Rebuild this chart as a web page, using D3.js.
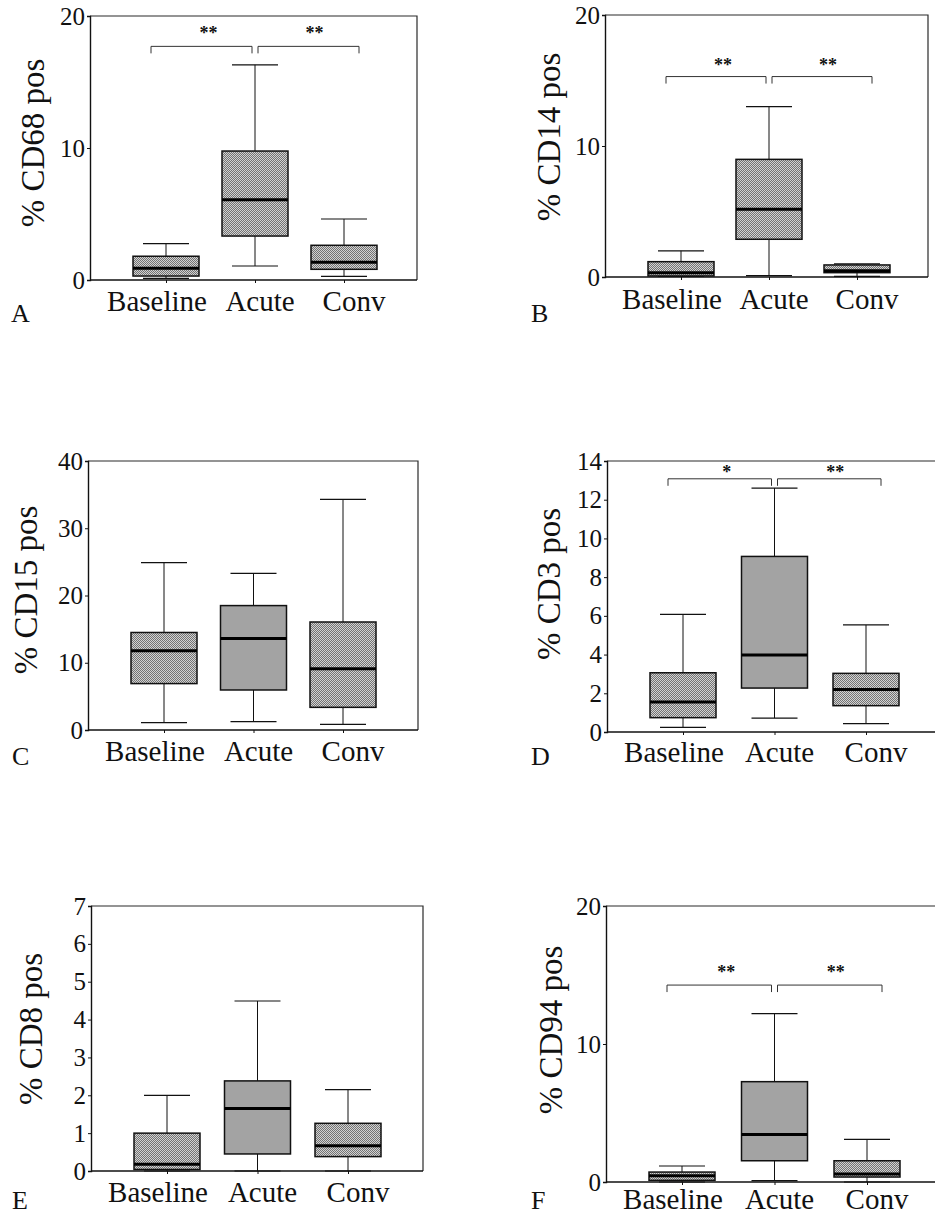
<!DOCTYPE html>
<html>
<head>
<meta charset="utf-8">
<script src="https://cdn.jsdelivr.net/npm/d3@7"></script>
<style>
	body { margin: 0; background: #fff; }
	svg { display: block; }
	svg text { font-family: 'Liberation Serif', 'DejaVu Serif', serif; fill: #111; }
</style>
</head>
<body>
<div id="chart"></div>
<script>
// group names on the x axis
var groups = ['Baseline', 'Acute', 'Conv'];

// box stats per group: [min, q1, median, q3, max]
var cd68 = [[0.13, 0.3, 0.89, 1.8, 2.75], [1.06, 3.33, 6.08, 9.77, 16.3], [0.28, 0.81, 1.34, 2.63, 4.62]];
var cd14 = [[0.05, 0.08, 0.33, 1.17, 2.0], [0.1, 2.88, 5.17, 8.98, 13.0], [0.05, 0.33, 0.48, 0.92, 1.0]];
var cd15 = [[1.1, 6.9, 11.8, 14.5, 24.9], [1.24, 5.95, 13.6, 18.5, 23.3], [0.84, 3.37, 9.12, 16.06, 34.3]];
var cd3 = [[0.24, 0.74, 1.55, 3.06, 6.08], [0.72, 2.27, 3.98, 9.07, 12.6], [0.43, 1.36, 2.19, 3.03, 5.53]];
var cd8 = [[0, 0.04, 0.18, 1.0, 2.0], [0, 0.45, 1.65, 2.38, 4.49], [0, 0.38, 0.67, 1.26, 2.15]];
var cd94 = [[0, 0.12, 0.46, 0.72, 1.16], [0.1, 1.54, 3.45, 7.27, 12.2], [0, 0.36, 0.58, 1.54, 3.09]];

// y tick labels
var ticks20 = [0, 10, 20];
var ticks40 = [0, 10, 20, 30, 40];
var ticks14 = [0, 2, 4, 6, 8, 10, 12, 14];
var ticks7 = [0, 1, 2, 3, 4, 5, 6, 7];

// significance marks: [left star, right star] and bracket height in data units
var sigCd68 = {stars: ['**', '**'], level: 17.7};
var sigCd14 = {stars: ['**', '**'], level: 15.3};
var sigCd3 = {stars: ['*', '**'], level: 13.08};
var sigCd94 = {stars: ['**', '**'], level: 14.27};

var serif = "'Liberation Serif', 'DejaVu Serif', serif";

var svg = d3.select('#chart')
	.append('svg')
	.attr('width', 935)
	.attr('height', 1216);

// stippled grey fill like the printed figure
var pattern = svg.append('defs')
	.append('pattern')
	.attr('id', 'dither')
	.attr('width', 2)
	.attr('height', 2)
	.attr('patternUnits', 'userSpaceOnUse');
pattern.append('rect').attr('width', 2).attr('height', 2).attr('fill', '#d2d2d2');
pattern.append('rect').attr('width', 1).attr('height', 1).attr('fill', '#737373');
pattern.append('rect').attr('x', 1).attr('y', 1).attr('width', 1).attr('height', 1).attr('fill', '#737373');

var labelShift = [-9, 5, 10];

function drawPanel(o) {
	var y = d3.scaleLinear()
		.domain([0, o.ticks[o.ticks.length - 1]])
		.range([o.bottom, o.top]);

	var x = d3.scalePoint()
		.domain(groups)
		.range([o.left + 76, o.left + 76 + 2 * o.step]);

	var g = svg.append('g').attr('class', 'panel');

	// frame: top and right
	g.append('path')
		.attr('d', 'M' + o.left + ',' + o.top + 'H' + o.right + 'V' + o.bottom)
		.attr('fill', 'none')
		.attr('stroke', '#2a2a2a')
		.attr('stroke-width', 1.2);

	var yAxis = d3.axisLeft(y)
		.tickValues(o.ticks)
		.tickSize(3)
		.tickPadding(2)
		.tickFormat(d3.format('d'));

	var ya = g.append('g')
		.attr('transform', 'translate(' + o.left + ',0)')
		.call(yAxis)
		.attr('font-family', serif);
	ya.select('.domain').attr('stroke', '#111').attr('stroke-width', 1.4);
	ya.selectAll('.tick line').attr('stroke', '#111');
	ya.selectAll('text')
		.attr('font-size', 25)
		.attr('fill', '#111')
		.attr('font-family', serif);

	var xAxis = d3.axisBottom(x)
		.tickSize(3)
		.tickFormat('');

	var xa = g.append('g')
		.attr('transform', 'translate(0,' + o.bottom + ')')
		.call(xAxis);
	xa.select('.domain')
		.attr('d', 'M' + o.left + ',0H' + o.right)
		.attr('stroke', '#111')
		.attr('stroke-width', 1.4);
	xa.selectAll('.tick line').attr('stroke', '#111');

	// category labels
	g.selectAll('.cat')
		.data(groups)
		.enter().append('text')
		.attr('class', 'cat')
		.attr('x', function(d, i) { return x(d) + labelShift[i]; })
		.attr('y', o.bottom + o.labelGap)
		.attr('text-anchor', 'middle')
		.attr('font-family', serif)
		.attr('font-size', 29)
		.text(function(d) { return d; });

	// boxes
	var boxW = 66, capW = 46;
	var boxes = g.selectAll('.box')
		.data(o.data)
		.enter().append('g')
		.attr('class', 'box')
		.attr('transform', function(d, i) { return 'translate(' + x(groups[i]) + ',0)'; });

	boxes.append('line')
		.attr('x1', 0).attr('x2', 0)
		.attr('y1', function(d) { return y(d[3]); })
		.attr('y2', function(d) { return y(d[4]); })
		.attr('stroke', '#111');
	boxes.append('line')
		.attr('x1', 0).attr('x2', 0)
		.attr('y1', function(d) { return y(d[0]); })
		.attr('y2', function(d) { return y(d[1]); })
		.attr('stroke', '#111');
	boxes.append('line')
		.attr('x1', -capW / 2).attr('x2', capW / 2)
		.attr('y1', function(d) { return y(d[4]); })
		.attr('y2', function(d) { return y(d[4]); })
		.attr('stroke', '#111')
		.attr('stroke-width', 1.2);
	boxes.append('line')
		.attr('x1', -capW / 2).attr('x2', capW / 2)
		.attr('y1', function(d) { return y(d[0]); })
		.attr('y2', function(d) { return y(d[0]); })
		.attr('stroke', '#111')
		.attr('stroke-width', 1.2);
	boxes.append('rect')
		.attr('x', -boxW / 2)
		.attr('width', boxW)
		.attr('y', function(d) { return y(d[3]); })
		.attr('height', function(d) { return y(d[1]) - y(d[3]); })
		.attr('fill', 'url(#dither)')
		.attr('stroke', '#111')
		.attr('stroke-width', 1.5);
	boxes.append('line')
		.attr('x1', -boxW / 2).attr('x2', boxW / 2)
		.attr('y1', function(d) { return y(d[2]); })
		.attr('y2', function(d) { return y(d[2]); })
		.attr('stroke', '#000')
		.attr('stroke-width', 3);

	// significance brackets
	if (o.sig) {
		var by = y(o.sig.level);
		var drop = 7;
		var c0 = x(groups[0]), c1 = x(groups[1]), c2 = x(groups[2]);
		var spans = [[c0 - 15, c1 - 3], [c1 + 3, c2 + 15]];
		g.selectAll('.bracket')
			.data(spans)
			.enter().append('path')
			.attr('class', 'bracket')
			.attr('d', function(d) {
				return 'M' + d[0] + ',' + (by + drop) + 'V' + by + 'H' + d[1] + 'V' + (by + drop);
			})
			.attr('fill', 'none')
			.attr('stroke', '#333')
			.attr('stroke-width', 1);
		var starX = [(c0 + c1) / 2 - 2, (c1 + c2) / 2 + 15];
		g.selectAll('.star')
			.data(o.sig.stars)
			.enter().append('text')
			.attr('class', 'star')
			.attr('x', function(d, i) { return starX[i]; })
			.attr('y', by - o.starGap)
			.attr('text-anchor', 'middle')
			.attr('font-family', serif)
			.attr('font-size', 18)
			.attr('font-weight', 'bold')
			.text(function(d) { return d; });
	}

	// y title
	g.append('text')
		.attr('transform', 'translate(' + o.titleX + ',' + o.titleY + ') rotate(-90)')
		.attr('text-anchor', 'middle')
		.attr('font-family', serif)
		.attr('font-size', 33)
		.text(o.title);

	// panel letter
	g.append('text')
		.attr('x', o.letterX)
		.attr('y', o.letterY)
		.attr('font-family', serif)
		.attr('font-size', 26)
		.text(o.letter);
}

drawPanel({data: cd68, ticks: ticks20, title: '% CD68 pos', letter: 'A', sig: sigCd68, starGap: 7, labelGap: 31,
	left: 90, top: 16, right: 417, bottom: 280, step: 89, titleX: 44, titleY: 143, letterX: 11, letterY: 322});
drawPanel({data: cd14, ticks: ticks20, title: '% CD14 pos', letter: 'B', sig: sigCd14, starGap: 6, labelGap: 32,
	left: 605, top: 15, right: 928, bottom: 277, step: 88, titleX: 560, titleY: 137, letterX: 531, letterY: 322});
drawPanel({data: cd15, ticks: ticks40, title: '% CD15 pos', letter: 'C', sig: null, labelGap: 31,
	left: 88, top: 461, right: 418, bottom: 730, step: 89.5, titleX: 37, titleY: 590, letterX: 12, letterY: 765});
drawPanel({data: cd3, ticks: ticks14, title: '% CD3 pos', letter: 'D', sig: sigCd3, starGap: 1, labelGap: 30,
	left: 607, top: 461, right: 937, bottom: 732, step: 91.5, titleX: 560, titleY: 584, letterX: 531, letterY: 765});
drawPanel({data: cd8, ticks: ticks7, title: '% CD8 pos', letter: 'E', sig: null, labelGap: 31,
	left: 91, top: 906, right: 423, bottom: 1171, step: 90.5, titleX: 42, titleY: 1029, letterX: 12, letterY: 1209});
drawPanel({data: cd94, ticks: ticks20, title: '% CD94 pos', letter: 'F', sig: sigCd94, starGap: 7, labelGap: 27,
	left: 606, top: 906, right: 937, bottom: 1182, step: 92.5, titleX: 562, titleY: 1030, letterX: 531, letterY: 1209});
</script>
</body>
</html>
